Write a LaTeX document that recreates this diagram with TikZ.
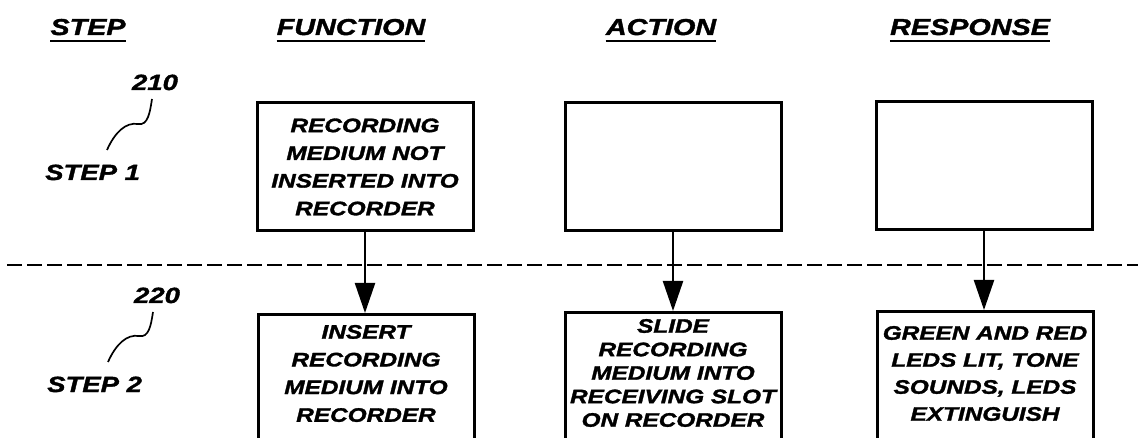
\documentclass[tikz,border=0pt]{standalone}
\usepackage{fontspec}
\setmainfont{Liberation Sans}[FakeStretch=1.25, BoldItalicFeatures={FakeBold=1.6}]
\usetikzlibrary{arrows.meta}
\begin{document}
\begin{tikzpicture}[x=1pt,y=-1pt,
  hdr/.style={font=\fontsize{23}{27}\selectfont\bfseries\itshape, inner sep=0, anchor=base},
  lbl/.style={font=\fontsize{22}{26}\selectfont\bfseries\itshape, inner sep=0},
  boxst/.style={draw, line width=3pt, minimum width=216pt, minimum height=128pt, align=center, inner sep=0,
    font=\fontsize{19.5}{27.7}\selectfont\bfseries\itshape},
  boxtxt/.style={align=center, inner sep=0, font=\fontsize{19.5}{27.7}\selectfont\bfseries\itshape},
  flow/.style={line width=2.2pt, -{Triangle[length=30pt,width=20pt]}},
  uline/.style={line width=2.2pt},
  lead/.style={line width=1.7pt},
  sep/.style={line width=2.6pt, dash pattern=on 15pt off 5pt}]
\useasboundingbox (0,0) rectangle (1138,438);
\clip (0,0) rectangle (1138,438);

% headers
\node[hdr] (hs) at (88,35) {STEP};
\node[hdr] (hf) at (351,35) {FUNCTION};
\node[hdr] (ha) at (661,35) {ACTION};
\node[hdr] (hr) at (970,35) {RESPONSE};
\foreach \h in {hs,hf,ha,hr}{
  \draw[uline] ([yshift=-6pt]\h.base west) -- ([yshift=-6pt]\h.base east);
}

% step labels
\node[lbl, anchor=base] (n210) at (155,90) {210};
\node[lbl, anchor=base west] (s1) at (45,180) {STEP 1};
\node[lbl, anchor=base] (n220) at (157,303) {220};
\node[lbl, anchor=base west] (s2) at (47,392) {STEP 2};
\coordinate (l1a) at (152,99);
\coordinate (l1b) at (107,150);
\coordinate (l2a) at (153,312);
\coordinate (l2b) at (108,362);
\draw[lead] (l1a) .. controls (150,112) and (148,126) .. (138,124) .. controls (126,122) and (115,132) .. (l1b);
\draw[lead] (l2a) .. controls (151,325) and (149,338) .. (139,336) .. controls (127,334) and (116,344) .. (l2b);

% separator
\draw[sep] (7,265) -- (1138,265);

% step 1 boxes
\node[boxst] (f1) at (365,167) {RECORDING\\MEDIUM NOT\\INSERTED INTO\\RECORDER};
\node[boxst] (a1) at (673,167) {};
\node[boxst] (r1) at (984,166) {};

% step 2 boxes
\node[boxst, anchor=north, minimum height=140pt] (f2) at (366,313) {};
\node[boxtxt] (f2t) at (366,373.5) {INSERT\\RECORDING\\MEDIUM INTO\\RECORDER};
\node[boxst, anchor=north, minimum height=140pt] (a2) at (673,311) {};
\node[boxtxt, font=\fontsize{19.5}{23.5}\selectfont\bfseries\itshape] (a2t) at (673,373) {SLIDE\\RECORDING\\MEDIUM INTO\\RECEIVING SLOT\\ON RECORDER};
\node[boxst, anchor=north, minimum height=140pt] (r2) at (985,310) {};
\node[boxtxt, font=\fontsize{19.5}{27}\selectfont\bfseries\itshape] (r2t) at (985,373.5) {GREEN AND RED\\LEDS LIT, TONE\\SOUNDS, LEDS\\EXTINGUISH};

% arrows
\draw[flow] (f1.south) -- (f1.south |- f2.north);
\draw[flow] (a1.south) -- (a1.south |- a2.north);
\draw[flow] (r1.south) -- (r1.south |- r2.north);
\end{tikzpicture}
\end{document}
